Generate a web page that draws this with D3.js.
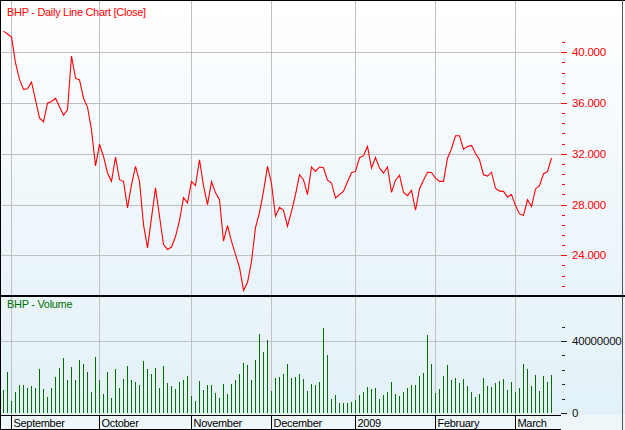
<!DOCTYPE html>
<html><head><meta charset="utf-8">
<script src="https://cdn.jsdelivr.net/npm/d3@7"></script>
<style>body{margin:0;background:#fff}svg{display:block}text{font-family:"Liberation Sans",Arial,sans-serif}</style>
</head><body><svg id="c" width="625" height="430"></svg>
<script>
const monthLabels = ["September","October","November","December","2009","February","March"];
const monthStarts = [2,24,47,67,88,108,128];
const closes = [41.67,41.44,41.20,39.16,37.86,37.08,37.12,37.66,36.25,34.83,
34.52,35.99,36.13,36.38,35.70,35.05,35.46,39.71,37.96,37.82,
36.38,35.68,33.89,31.05,32.75,31.79,30.49,29.83,31.75,29.96,
29.83,27.74,29.57,31.01,29.83,26.42,24.59,26.95,29.31,27.08,
24.85,24.46,24.65,25.48,26.74,28.55,28.13,29.83,29.49,31.53,
29.49,28.00,29.80,28.92,28.39,25.11,26.34,25.09,24.06,23.04,
21.23,21.86,23.51,26.19,27.37,29.04,31.01,29.65,27.08,27.78,
27.55,26.29,27.47,28.78,30.35,29.96,28.78,30.96,30.61,30.96,
30.90,29.92,29.70,28.52,28.78,29.06,29.80,30.51,30.61,31.69,
31.85,32.58,30.88,31.71,30.88,30.49,30.96,28.96,29.92,30.31,
28.96,28.70,29.12,27.55,29.25,29.92,30.55,30.53,30.08,29.83,
29.83,31.65,32.40,33.42,33.42,32.37,32.58,32.66,32.04,31.53,
30.35,30.24,30.55,29.29,29.06,29.04,28.60,28.78,27.92,27.26,
27.13,28.39,27.84,29.23,29.49,30.43,30.59,31.67];
const volumesM = [12.9,23.1,6.8,12.0,15.7,15.7,14.2,15.1,13.8,24.5,
13.7,9.2,14.0,20.3,25.1,30.6,18.5,25.6,18.5,29.5,
27.3,23.1,11.8,31.2,18.5,10.7,23.1,8.7,24.5,13.8,
19.0,26.2,18.5,17.5,15.7,29.0,24.4,22.0,25.1,13.8,
26.2,16.6,15.1,13.7,17.2,18.6,20.7,9.6,6.8,17.9,
12.9,15.5,15.7,11.1,8.3,16.2,10.7,16.2,18.5,21.8,
27.9,26.8,18.5,29.5,43.9,34.1,40.6,12.4,19.6,19.9,
21.8,27.3,19.4,20.3,21.8,19.0,12.4,16.1,15.7,17.5,
47.4,32.3,7.9,10.1,5.5,5.5,5.5,6.1,7.4,10.1,
12.0,14.8,13.5,13.8,7.9,10.1,11.8,17.3,10.7,9.6,
11.8,13.8,15.7,15.7,20.7,22.5,43.4,27.3,11.4,13.5,
20.7,26.8,18.5,19.6,17.0,19.0,15.3,11.8,9.2,10.7,
19.6,15.1,14.8,17.0,17.7,19.0,12.9,17.3,11.8,14.0,
27.3,24.5,15.1,21.2,12.4,20.7,17.3,21.2];
const priceMajor = [24,28,32,36,40];
const priceMinor = [21.6,22.4,23.2,24.8,25.6,26.4,27.2,28.8,29.6,30.4,31.2,32.8,33.6,34.4,35.2,36.8,37.6,38.4,39.2,40.8];
const volMajor = [0,40000000];
const volMinor = [8000000,16000000,24000000,32000000,48000000];

const svg = d3.select('#c');
const W=625, plotR=561;
const defs = svg.append('defs');
function grad(id, c1, c2){
  const g = defs.append('linearGradient').attr('id',id).attr('x1',0).attr('y1',0).attr('x2',0).attr('y2',1);
  g.append('stop').attr('offset','0%').attr('stop-color',c1);
  g.append('stop').attr('offset','100%').attr('stop-color',c2);
}
grad('gp','#ffffff','#e8f4fa');
grad('gv','#eaf5fa','#e2f1f8');

const x = d3.scaleLinear().domain([0, closes.length-1]).range([3.5, 551.5]);
const yP = d3.scaleLinear().domain([24,40]).range([255.3,52.3]);
const yV = d3.scaleLinear().domain([0,40e6]).range([413.3,341]);
const snap = v => Math.round(v)+0.5;

svg.append('rect').attr('x',0).attr('y',0).attr('width',W).attr('height',296).attr('fill','url(#gp)');
svg.append('rect').attr('x',0).attr('y',296).attr('width',W).attr('height',119).attr('fill','url(#gv)');
svg.append('rect').attr('x',0).attr('y',415).attr('width',W).attr('height',15).attr('fill','#eef6fa');

const grid = svg.append('g').attr('stroke','#c0c0c0').attr('stroke-width',1).attr('shape-rendering','crispEdges');
priceMajor.forEach(v=>grid.append('line').attr('x1',0).attr('x2',plotR).attr('y1',snap(yP(v))).attr('y2',snap(yP(v))));
grid.append('line').attr('x1',0).attr('x2',plotR).attr('y1',snap(yV(40e6))).attr('y2',snap(yV(40e6)));
monthStarts.forEach(i=>{
  grid.append('line').attr('x1',x(i)).attr('x2',x(i)).attr('y1',1).attr('y2',295);
  grid.append('line').attr('x1',x(i)).attr('x2',x(i)).attr('y1',297).attr('y2',415);
});

svg.append('g').attr('stroke','#006e00').attr('stroke-width',1).attr('shape-rendering','crispEdges')
  .selectAll('line').data(volumesM).join('line')
  .attr('x1',(d,i)=>x(i)).attr('x2',(d,i)=>x(i))
  .attr('y1',yV(0)).attr('y2',d=>yV(d*1e6));

svg.append('path').datum(closes)
  .attr('d', d3.line().x((d,i)=>x(i)).y(d=>yP(d)))
  .attr('fill','none').attr('stroke','#ff0000').attr('stroke-width',1.1);

const pa = svg.append('g').attr('shape-rendering','crispEdges').attr('stroke','#ff0000');
priceMajor.forEach(v=>pa.append('line').attr('x1',561).attr('x2',567).attr('y1',snap(yP(v))).attr('y2',snap(yP(v))));
priceMinor.forEach(v=>pa.append('line').attr('x1',562).attr('x2',565).attr('y1',snap(yP(v))).attr('y2',snap(yP(v))));
svg.append('g').selectAll('text').data(priceMajor).join('text')
  .attr('x',572).attr('y',d=>yP(d)+4).attr('fill','#ff0000').attr('font-size',11.5).attr('letter-spacing',-0.2)
  .text(d=>d3.format('.3f')(d));

const va = svg.append('g').attr('shape-rendering','crispEdges').attr('stroke','#222');
volMajor.forEach(v=>va.append('line').attr('x1',561).attr('x2',567).attr('y1',snap(yV(v))).attr('y2',snap(yV(v))));
volMinor.forEach(v=>va.append('line').attr('x1',562).attr('x2',565).attr('y1',snap(yV(v))).attr('y2',snap(yV(v))));
svg.append('g').selectAll('text').data(volMajor).join('text')
  .attr('x',572).attr('y',d=>yV(d)+4).attr('fill','#111').attr('font-size',11.5).attr('letter-spacing',-0.2)
  .text(d=>String(d));

svg.append('text').attr('x',7).attr('y',16).attr('fill','#ff0000').attr('font-size',11).attr('letter-spacing',-0.3).text('BHP - Daily Line Chart [Close]');
svg.append('text').attr('x',7).attr('y',308).attr('fill','#006e00').attr('font-size',11).attr('letter-spacing',-0.3).text('BHP - Volume');

const dr = svg.append('g').attr('shape-rendering','crispEdges').attr('stroke','#000');
dr.append('line').attr('x1',0).attr('x2',plotR).attr('y1',415.5).attr('y2',415.5);
dr.append('line').attr('x1',0).attr('x2',plotR).attr('y1',429.5).attr('y2',429.5);
monthStarts.forEach(i=>dr.append('line').attr('x1',x(i)).attr('x2',x(i)).attr('y1',415).attr('y2',430));
svg.append('g').selectAll('text').data(monthLabels).join('text')
  .attr('x',(d,k)=>x(monthStarts[k])+2).attr('y',427).attr('fill','#000').attr('font-size',11).attr('letter-spacing',-0.3)
  .text(d=>d);

const fr = svg.append('g').attr('shape-rendering','crispEdges').attr('fill','none');
fr.append('line').attr('x1',0).attr('x2',W).attr('y1',0.5).attr('y2',0.5).attr('stroke','#000');
fr.append('line').attr('x1',0.5).attr('x2',0.5).attr('y1',0).attr('y2',430).attr('stroke','#000');
fr.append('line').attr('x1',622.5).attr('x2',622.5).attr('y1',0).attr('y2',430).attr('stroke','#555');
fr.append('rect').attr('x',0).attr('y',295).attr('width',W).attr('height',2).attr('fill','#000').attr('stroke','none');
</script></body></html>
